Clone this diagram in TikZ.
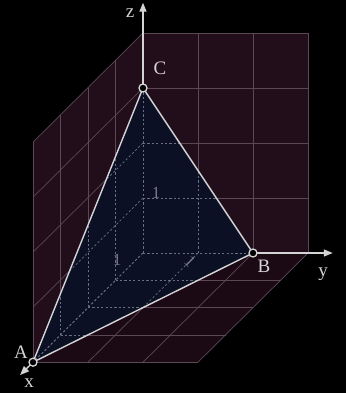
\documentclass[tikz,border=0pt]{standalone}
\usepackage{fontspec}
\setmainfont{Liberation Serif}
\usetikzlibrary{arrows.meta}
\definecolor{bgc}{RGB}{0,0,0}
\definecolor{wallc}{RGB}{34,14,27}
\definecolor{floorc}{RGB}{27,10,20}
\definecolor{gridc}{RGB}{92,72,84}
\definecolor{dashc}{RGB}{105,110,128}
\definecolor{tric}{RGB}{11,16,36}
\definecolor{linec}{RGB}{212,212,212}
\definecolor{onec}{RGB}{120,122,135}
\newcommand\mygridlines[1]{%
  \foreach \k in {0,...,4} {
    \draw[#1] (0,0,\k) -- (0,3,\k);
    \draw[#1] (0,0,\k) -- (4,0,\k);
    \draw[#1] (\k,0,0) -- (\k,3,0);
    \draw[#1] (\k,0,0) -- (\k,0,4);
  }
  \foreach \k in {0,...,3} {
    \draw[#1] (0,\k,0) -- (0,\k,4);
    \draw[#1] (0,\k,0) -- (4,\k,0);
  }
}
\tikzset{
  gridline/.style={draw=gridc, line width=0.7pt},
  dashline/.style={draw=dashc, line width=0.7pt, dash pattern=on 2.2pt off 2.2pt},
  edge/.style={draw=linec, line width=1.4pt, line join=round},
  axisline/.style={draw=linec, line width=1.3pt, -{Triangle[length=9pt,width=7pt]}},
  pt/.style={circle, draw=linec, fill=black, line width=1.3pt, minimum size=8pt, inner sep=0pt},
  lab/.style={text=linec, font=\fontsize{19pt}{22pt}\selectfont, inner sep=0pt},
  onelab/.style={text=onec, font=\fontsize{17pt}{20pt}\selectfont, inner sep=0pt}
}
\begin{document}
\begin{tikzpicture}[x=1pt,y=1pt]
\useasboundingbox (0,0) rectangle (346,393);
\fill[bgc] (0,0) rectangle (346,393);
\begin{scope}[shift={(143pt,140pt)}, x={(-27.5pt,-27.3pt)}, y={(55pt,0pt)}, z={(0pt,55pt)}]
  \coordinate (O) at (0,0,0);
  \coordinate (A) at (4,0,0);
  \coordinate (B) at (0,2,0);
  \coordinate (C) at (0,0,3);
  \coordinate (xtip) at (4.47,0,0);
  \coordinate (ytip) at (0,3.45,0);
  \coordinate (ztip) at (0,0,4.55);
  % walls
  \fill[wallc] (0,0,0) -- (0,3,0) -- (0,3,4) -- (0,0,4) -- cycle;
  \fill[wallc] (0,0,0) -- (4,0,0) -- (4,0,4) -- (0,0,4) -- cycle;
  \fill[floorc] (0,0,0) -- (4,0,0) -- (4,3,0) -- (0,3,0) -- cycle;
  \mygridlines{gridline}
  % axes
  \draw[axisline] (C) -- (ztip);
  \draw[axisline] (B) -- (ytip);
  \draw[axisline] (A) -- (xtip);
  % triangle
  \fill[tric] (A) -- (B) -- (C) -- cycle;
  \begin{scope}
    \clip (A) -- (B) -- (C) -- cycle;
    \mygridlines{dashline}
  \end{scope}
\end{scope}
\node[onelab] (one1) at (156,200) {1};
\node[onelab] (one2) at (117,133) {1};
\node[onelab, rotate=-45] (one3) at (190,131) {1};
\draw[edge] (A) -- (B) -- (C) -- cycle;
\node[pt] (pA) at (A) {};
\node[pt] (pB) at (B) {};
\node[pt] (pC) at (C) {};
\node[lab] (lz) at (130,380) {z};
\node[lab] (lC) at (160,325) {C};
\node[lab] (lB) at (264,127) {B};
\node[lab] (ly) at (323,119) {y};
\node[lab] (lA) at (21,41) {A};
\node[lab] (lx) at (29,10) {x};
\end{tikzpicture}
\end{document}
